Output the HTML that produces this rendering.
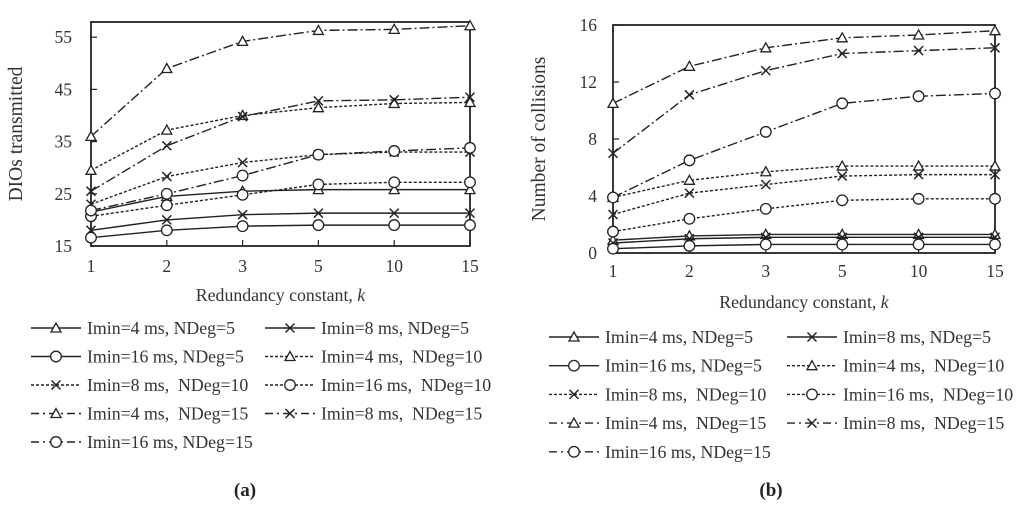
<!DOCTYPE html>
<html><head><meta charset="utf-8"><style>
html,body{margin:0;padding:0;background:#fff;}
svg{display:block;font-family:"Liberation Serif",serif;}
.pre{white-space:pre;}
</style></head><body>
<svg id="s" width="1024" height="510" xmlns="http://www.w3.org/2000/svg"></svg>
<script>
const categories=["1","2","3","5","10","15"];
const seriesNames=["Imin=4 ms, NDeg=5","Imin=8 ms, NDeg=5","Imin=16 ms, NDeg=5","Imin=4 ms,  NDeg=10","Imin=8 ms,  NDeg=10","Imin=16 ms,  NDeg=10","Imin=4 ms,  NDeg=15","Imin=8 ms,  NDeg=15","Imin=16 ms, NDeg=15"];
const dioS1=[21.5,24.5,25.5,25.8,25.8,25.8];
const dioS2=[18,20,21,21.3,21.3,21.3];
const dioS3=[16.6,18,18.8,19,19,19];
const dioS4=[29.5,37.2,40,41.5,42.3,42.5];
const dioS5=[23,28.3,31,32.5,33,33];
const dioS6=[20.7,22.8,24.8,26.8,27.2,27.2];
const dioS7=[36,49,54.2,56.3,56.5,57.2];
const dioS8=[25.5,34.2,39.8,42.8,43,43.5];
const dioS9=[21.8,25,28.5,32.5,33.2,33.8];
const colS1=[0.9,1.2,1.3,1.3,1.3,1.3];
const colS2=[0.7,1.0,1.1,1.1,1.1,1.1];
const colS3=[0.3,0.5,0.6,0.6,0.6,0.6];
const colS4=[3.9,5.1,5.7,6.1,6.1,6.1];
const colS5=[2.7,4.2,4.8,5.4,5.5,5.5];
const colS6=[1.5,2.4,3.1,3.7,3.8,3.8];
const colS7=[10.5,13.1,14.4,15.1,15.3,15.6];
const colS8=[7.0,11.1,12.8,14.0,14.2,14.4];
const colS9=[3.9,6.5,8.5,10.5,11.0,11.2];
const dioTicks=[15,25,35,45,55];
const colTicks=[0,4,8,12,16];

const NS="http://www.w3.org/2000/svg";
const svg=document.getElementById('s');
function mk(t,a,p){const e=document.createElementNS(NS,t);for(const k in a)e.setAttribute(k,a[k]);(p||svg).appendChild(e);return e;}
const markers=["tri","x","o","tri","x","o","tri","x","o"];
const dashes=["","","","3,2","3,2","3,2","10,3,2,3","10,3,2,3","10,3,2,3"];
function marker(g,m,x,y){
  if(m==="tri"){mk('path',{d:`M${x-5},${y+4}L${x},${y-5}L${x+5},${y+4}Z`,fill:'#fff',stroke:'#222','stroke-width':1.3},g);}
  else if(m==="x"){mk('path',{d:`M${x-4.5},${y-4.5}L${x+4.5},${y+4.5}M${x-4.5},${y+4.5}L${x+4.5},${y-4.5}`,stroke:'#222','stroke-width':1.5},g);}
  else {mk('circle',{cx:x,cy:y,r:5.3,fill:'#fff',stroke:'#222','stroke-width':1.3},g);}
}
function chart(cfg){
  const {L,R,T,B,ymin,ymax,ticks,series,name,ytitle,ytx,xtY,xtitleY,tickX}=cfg;
  const g=mk('g',{});
  
  
  const xs=i=>L+(R-L)*i/(categories.length-1);
  const ys=v=>B-(v-ymin)/(ymax-ymin)*(B-T);
  mk('rect',{x:L,y:T,width:R-L,height:B-T,fill:'none',stroke:'#222','stroke-width':1.8},g);
  ticks.forEach(t=>{
    mk('line',{x1:L,x2:L+6,y1:ys(t),y2:ys(t),stroke:'#222','stroke-width':1.2},g);
    const tx=mk('text',{x:tickX,y:ys(t)+6,'text-anchor':'end','font-size':17.5,fill:'#333'},g);
    
    
    tx.textContent=t;
  });
  categories.forEach((c,i)=>{
    mk('line',{x1:xs(i),x2:xs(i),y1:B,y2:B-6,stroke:'#222','stroke-width':1.2},g);
    const tx=mk('text',{x:xs(i),y:xtY,'text-anchor':'middle','font-size':17.5,fill:'#333'},g);
    
    
    tx.textContent=c;
  });
  const yt=mk('text',{x:0,y:0,transform:`translate(${ytx},${(T+B)/2}) rotate(-90)`,'text-anchor':'middle','font-size':19.5,fill:'#333'},g);
  
  
  yt.textContent=ytitle;
  const xt=mk('text',{x:(L+R)/2,y:xtitleY,'text-anchor':'middle','font-size':17.8,fill:'#333'},g);
  
  
  xt.innerHTML='Redundancy constant, <tspan font-style="italic">k</tspan>';
  series.forEach((vals,si)=>{
    const sg=mk('g',{},g);
    
    
    const pts=vals.map((v,i)=>xs(i)+','+ys(v)).join(' ');
    const a={points:pts,fill:'none',stroke:'#222','stroke-width':1.4};
    if(dashes[si])a['stroke-dasharray']=dashes[si];
    mk('polyline',a,sg);
    vals.forEach((v,i)=>marker(sg,markers[si],xs(i),ys(v)));
  });
  return g;
}
function legend(cfg){
  const {x1,x2,y0,dy,name}=cfg;
  const g=mk('g',{});
  
  
  seriesNames.forEach((n,i)=>{
    const col=i%2, row=Math.floor(i/2);
    const lx=col?x2:x1, y=y0+row*dy;
    const eg=mk('g',{},g);
    
    
    const a={x1:lx,x2:lx+50,y1:y,y2:y,stroke:'#222','stroke-width':1.4};
    if(dashes[i])a['stroke-dasharray']=dashes[i]==="3,2"?"3,2":"8,4,2,4";
    mk('line',a,eg);
    marker(eg,markers[i],lx+25,y);
    const t=mk('text',{x:lx+56,y:y+6,'font-size':17.8,fill:'#333','class':'pre'},eg);
    t.textContent=n;
  });
}
chart({L:91,R:470,T:22,B:246,ymin:15,ymax:15+(246-22)/5.22,ticks:dioTicks,series:[dioS1,dioS2,dioS3,dioS4,dioS5,dioS6,dioS7,dioS8,dioS9],name:'dio-chart',ytitle:'DIOs transmitted',ytx:22,xtY:272,xtitleY:301,tickX:72});
chart({L:613,R:995,T:25,B:253,ymin:0,ymax:16,ticks:colTicks,series:[colS1,colS2,colS3,colS4,colS5,colS6,colS7,colS8,colS9],name:'collision-chart',ytitle:'Number of collisions',ytx:545,xtY:277,xtitleY:308,tickX:597});
legend({x1:31,x2:265,y0:328,dy:28.5,name:'legend-a'});
legend({x1:549,x2:787,y0:337,dy:28.7,name:'legend-b'});
[["(a)",245],["(b)",771]].forEach(([t,x])=>{
  const e=mk('text',{x:x,y:496,'text-anchor':'middle','font-size':19,'font-weight':'bold',fill:'#222'});
  
  
  e.textContent=t;
});
</script>
</body></html>
